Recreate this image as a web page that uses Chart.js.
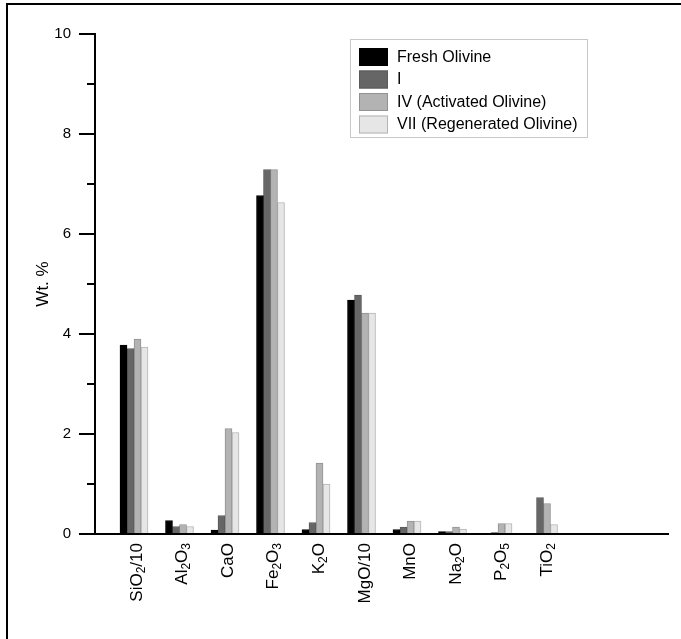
<!DOCTYPE html>
<html>
<head>
<meta charset="utf-8">
<title>Olivine oxides</title>
<script src="https://cdn.jsdelivr.net/npm/chart.js@4/dist/chart.umd.min.js"></script>
<style>
    html, body { margin: 0; padding: 0; background: #fff; }
    #wrap { position: relative; width: 681px; height: 639px; overflow: hidden; }
    #oxidosChart { position: absolute; left: 0; top: 0; }
    /* marco de la figura (solo arriba e izquierda) */
    #marco { position: absolute; left: 6px; top: 3px; width: 720px; height: 720px;
             border-top: 2px solid #000; border-left: 2px solid #000; pointer-events: none; }
</style>
</head>
<body>
<div id="wrap">
    <canvas id="oxidosChart" width="681" height="639"></canvas>
    <div id="marco"></div>
</div>
<script>
// Oxidos (el "_" marca el digito siguiente como subindice)
const oxidos = ['SiO_2/10', 'Al_2O_3', 'CaO', 'Fe_2O_3', 'K_2O', 'MgO/10', 'MnO', 'Na_2O', 'P_2O_5', 'TiO_2'];

// Wt. % por muestra
const frescaOlivina = [3.78, 0.27, 0.08, 6.77, 0.09, 4.68, 0.09, 0.05, 0.00, 0.00];
const muestraI      = [3.71, 0.15, 0.37, 7.29, 0.23, 4.78, 0.14, 0.05, 0.03, 0.73];
const muestraIV     = [3.90, 0.19, 2.11, 7.29, 1.42, 4.42, 0.26, 0.14, 0.21, 0.61];
const muestraVII    = [3.74, 0.15, 2.03, 6.63, 1.00, 4.42, 0.26, 0.10, 0.21, 0.19];

const nombres = ['Fresh Olivine', 'I', 'IV (Activated Olivine)', 'VII (Regenerated Olivine)'];
const ticksY = [0, 2, 4, 6, 8, 10];
const ticksMenores = [1, 3, 5, 7, 9];

const fuente = '"Liberation Sans", Arial, sans-serif';
Chart.defaults.font.family = fuente;
Chart.defaults.color = '#000000';

const aPuntos = arr => arr.map((v, i) => ({ x: i, y: v }));

// separa "Fe_2O_3" en trozos normales y subindices
const trocear = etq => {
    const partes = [];
    let i = 0;
    while (i < etq.length) {
        if (etq[i] === '_') {
            partes.push({ t: etq[i + 1], sub: true });
            i += 2;
        } else {
            let j = i;
            while (j < etq.length && etq[j] !== '_') j++;
            partes.push({ t: etq.slice(i, j), sub: false });
            i = j;
        }
    }
    return partes;
}

// ticks menores del eje Y, etiquetas del eje X y la leyenda con recuadro
const extrasPlugin = {
    id: 'extras',
    afterDraw(chart) {
        const ctx = chart.ctx;
        const ys = chart.scales.y;
        const xs = chart.scales.x;
        ctx.save();

        ctx.strokeStyle = '#000';
        ctx.lineWidth = 2;
        ticksMenores.forEach(v => {
            const y = Math.round(ys.getPixelForValue(v));
            ctx.beginPath();
            ctx.moveTo(chart.chartArea.left - 8, y);
            ctx.lineTo(chart.chartArea.left, y);
            ctx.stroke();
        });

        const tam = 17, tamSub = 12;
        const arriba = chart.chartArea.bottom + 9;
        ctx.fillStyle = '#000';
        ctx.textBaseline = 'alphabetic';
        oxidos.forEach((etq, i) => {
            const x = xs.getPixelForValue(i);
            const partes = trocear(etq);
            let total = 0;
            partes.forEach(p => {
                ctx.font = (p.sub ? tamSub : tam) + 'px ' + fuente;
                p.w = ctx.measureText(p.t).width;
                total += p.w;
            });
            ctx.save();
            ctx.translate(x, arriba);
            ctx.rotate(-Math.PI / 2);
            let pos = -total;
            partes.forEach(p => {
                ctx.font = (p.sub ? tamSub : tam) + 'px ' + fuente;
                ctx.fillText(p.t, pos, p.sub ? 11 : 8);
                pos += p.w;
            });
            ctx.restore();
        });

        // leyenda
        ctx.strokeStyle = '#c8c8c8';
        ctx.lineWidth = 1;
        ctx.strokeRect(350.5, 39.5, 237, 98);
        ctx.font = '16px ' + fuente;
        ctx.textBaseline = 'middle';
        chart.data.datasets.forEach((ds, i) => {
            const y = 48 + i * 22.5;
            ctx.fillStyle = ds.backgroundColor;
            ctx.fillRect(359, y, 29, 18);
            ctx.strokeStyle = ds.borderColor;
            ctx.strokeRect(359.5, y + 0.5, 28, 17);
            ctx.fillStyle = '#000';
            ctx.fillText(ds.label, 397, y + 9.5);
        });
        ctx.restore();
    }
}

const series = [frescaOlivina, muestraI, muestraIV, muestraVII];
const relleno = ['#000000', '#666666', '#b3b3b3', '#e6e6e6'];
const borde = ['#000000', '#5a5a5a', '#929292', '#b4b4b4'];

const data = {
    datasets: series.map((s, i) => ({
        label: nombres[i],
        data: aPuntos(s),
        backgroundColor: relleno[i],
        borderColor: borde[i],
        borderWidth: 1,
        barThickness: 7,
    }))
}

const options = {
    responsive: false,
    animation: false,
    layout: { padding: { top: 34, right: 13, bottom: 0, left: 0 } },
    plugins: {
        legend: { display: false },
        tooltip: { enabled: false },
    },
    scales: {
        x: {
            type: 'linear',
            offset: false,
            min: -0.857,
            max: 11.736,
            grid: { display: false },
            ticks: { display: false },
            border: { color: '#000', width: 2 },
            afterFit: s => { s.height = 105 },
        },
        y: {
            min: 0,
            max: 10,
            afterBuildTicks: s => { s.ticks = ticksY.map(v => ({ value: v })) },
            ticks: { font: { size: 15 }, padding: 8, color: '#000' },
            grid: { drawOnChartArea: false, drawTicks: true, tickLength: 16, color: '#000', lineWidth: 2 },
            border: { color: '#000', width: 2 },
            title: { display: true, text: 'Wt. %', font: { size: 17 }, color: '#000', padding: { top: 33 } },
            afterFit: s => { s.width = 95 },
        }
    }
}

new Chart('oxidosChart', {
    type: 'bar',
    data,
    options,
    plugins: [extrasPlugin]
})
</script>
</body>
</html>
